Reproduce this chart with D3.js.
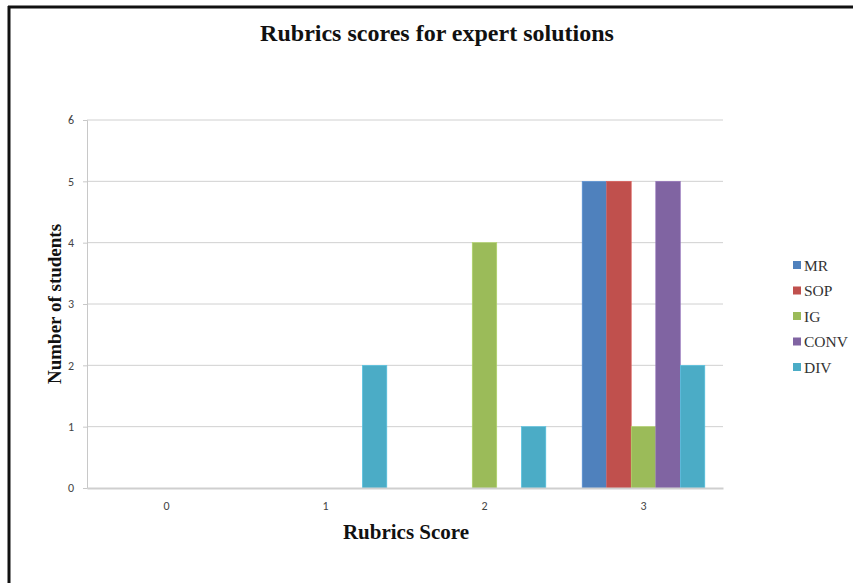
<!DOCTYPE html>
<html>
<head>
<meta charset="utf-8">
<script src="https://cdn.jsdelivr.net/npm/d3@7"></script>
<style>
  html, body { margin: 0; padding: 0; background: #fff; }
  svg { display: block; }
</style>
</head>
<body>
<svg id="chart" width="853" height="583"></svg>
<script>
// Rubric score categories and number of students per rubric
const scores = ["0", "1", "2", "3"];
const seriesNames = ["MR", "SOP", "IG", "CONV", "DIV"];
const seriesColors = ["#4f81bd", "#c0504d", "#9bbb59", "#8064a2", "#4bacc6"];
const MR   = [0, 0, 0, 5];
const SOP  = [0, 0, 0, 5];
const IG   = [0, 0, 4, 1];
const CONV = [0, 0, 0, 5];
const DIV  = [0, 2, 1, 2];
const yTicks = [0, 1, 2, 3, 4, 5, 6];

const seriesValues = [MR, SOP, IG, CONV, DIV];

const svg = d3.select("#chart");
const W = 853, H = 583;

// outer frame (top and left edges)
svg.append("rect").attr("x", 0).attr("y", 0).attr("width", W).attr("height", H).attr("fill", "#fff");
svg.append("line").attr("x1", 8).attr("x2", W).attr("y1", 7).attr("y2", 7)
  .attr("stroke", "#111").attr("stroke-width", 3);
svg.append("line").attr("x1", 9).attr("x2", 9).attr("y1", 6).attr("y2", H)
  .attr("stroke", "#111").attr("stroke-width", 3);

const plot = { left: 87, right: 723, top: 120, bottom: 488 };

const x = d3.scaleBand().domain(scores).range([plot.left, plot.right]).paddingInner(0).paddingOuter(0);
const xInner = d3.scaleBand().domain(seriesNames).range([0, x.bandwidth()]).paddingOuter(0.74).paddingInner(0);
const y = d3.scaleLinear().domain([0, 6]).range([plot.bottom, plot.top]);

// gridlines
svg.append("g").selectAll("line").data(yTicks.filter(t => t > 0)).join("line")
  .attr("x1", plot.left).attr("x2", plot.right)
  .attr("y1", d => y(d)).attr("y2", d => y(d))
  .attr("stroke", "#d0d0d0").attr("stroke-width", 1);

const sans = "Carlito, 'Liberation Sans', Arial, sans-serif";

// y axis
const yAxis = svg.append("g").attr("transform", `translate(${plot.left},0)`)
  .call(d3.axisLeft(y).tickValues(yTicks).tickSize(4).tickPadding(9).tickFormat(d3.format("d")));
yAxis.select(".domain").attr("stroke", "#c8c8c8");
yAxis.selectAll(".tick line").attr("stroke", "#c8c8c8");
yAxis.selectAll("text").attr("fill", "#444").style("font-family", sans).style("font-size", "12px");

// bars
const groups = svg.append("g").selectAll("g").data(scores).join("g")
  .attr("transform", d => `translate(${x(d)},0)`);
groups.selectAll("rect")
  .data((d, i) => seriesNames.map((s, k) => ({ s, k, v: seriesValues[k][i] })))
  .join("rect")
  .attr("x", d => xInner(d.s))
  .attr("width", xInner.bandwidth())
  .attr("y", d => y(d.v))
  .attr("height", d => y(0) - y(d.v))
  .attr("fill", d => seriesColors[d.k])
  .attr("stroke", d => d3.color(seriesColors[d.k]).brighter(0.4))
  .attr("stroke-width", d => d.v > 0 ? 0.6 : 0);

// x axis
const xAxis = svg.append("g").attr("transform", `translate(0,${plot.bottom})`)
  .call(d3.axisBottom(x).tickSize(0).tickPadding(13));
xAxis.select(".domain").attr("stroke", "#cfcfcf").attr("stroke-width", 2);
xAxis.selectAll("text").attr("fill", "#444").style("font-family", sans).style("font-size", "12px");

const serif = "'Liberation Serif', 'Times New Roman', serif";

// title
svg.append("text").attr("x", 437).attr("y", 41).attr("text-anchor", "middle")
  .style("font-family", serif).style("font-weight", "bold").style("font-size", "24px")
  .attr("fill", "#111").text("Rubrics scores for expert solutions");

// axis titles
svg.append("text").attr("transform", "translate(61,304) rotate(-90)").attr("text-anchor", "middle")
  .style("font-family", serif).style("font-weight", "bold").style("font-size", "19px")
  .attr("fill", "#111").text("Number of students");
svg.append("text").attr("x", 406).attr("y", 539).attr("text-anchor", "middle")
  .style("font-family", serif).style("font-weight", "bold").style("font-size", "21px")
  .attr("fill", "#111").text("Rubrics Score");

// legend
const legend = svg.append("g").attr("transform", "translate(793,261)");
const items = legend.selectAll("g").data(seriesNames).join("g")
  .attr("transform", (d, i) => `translate(0,${i * 25.5})`);
items.append("rect").attr("x", 0).attr("y", 0).attr("width", 8).attr("height", 8)
  .attr("fill", (d, i) => seriesColors[i]);
items.append("text").attr("x", 11).attr("y", 9.5)
  .style("font-family", serif).style("font-size", "15.5px").attr("fill", "#333").text(d => d);
</script>
</body>
</html>
